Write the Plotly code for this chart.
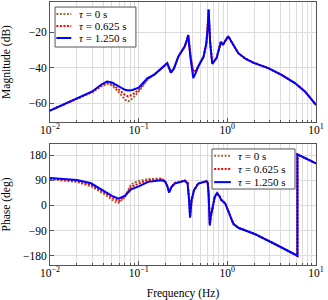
import plotly.graph_objects as go

# ---------------- data ----------------
freq_mag = [0.01, 0.015, 0.02, 0.03, 0.038, 0.044, 0.05, 0.06, 0.07, 0.076, 0.085, 0.1, 0.125, 0.15,
            0.18, 0.198, 0.21, 0.231, 0.25, 0.28, 0.33, 0.35, 0.362, 0.385, 0.413, 0.44, 0.47, 0.54,
            0.58, 0.6, 0.615, 0.64, 0.676, 0.755, 0.847, 0.89, 0.95, 1.0, 1.03, 1.15, 1.33, 1.6,
            1.96, 2.89, 4.09, 5.78, 7.5, 10.0]
mag_tau0 = [-64.2, -60.4, -57.6, -53.8, -50.5, -49.1, -50.0, -54.0, -58.0, -59.0, -57.5, -53.5, -47.0, -44.0,
            -40.5, -38.5, -37.5, -42.8, -40.5, -33.8, -28.2, -24.5, -21.7, -33.5, -43.0, -41.8, -39.4, -33.8,
            -26.3, -18.0, -7.3, -26.0, -37.5, -34.7, -25.4, -27.3, -24.5, -23.0, -22.6, -26.5, -31.9, -35.0,
            -37.2, -40.3, -44.1, -48.7, -53.4, -61.0]
mag_tau0625 = [-64.2, -60.3, -57.5, -53.6, -50.0, -48.5, -49.2, -52.5, -55.3, -56.2, -55.2, -52.6, -46.5, -44.0,
               -40.5, -38.5, -37.5, -42.8, -40.5, -33.8, -28.2, -24.5, -21.7, -33.5, -42.2, -41.5, -39.4, -33.8,
               -26.3, -18.0, -7.3, -26.0, -37.5, -34.7, -25.4, -27.3, -24.5, -23.0, -22.6, -26.5, -31.9, -35.0,
               -37.2, -40.3, -44.1, -48.7, -53.4, -61.0]
mag_tau125 = [-64.2, -60.2, -57.4, -53.4, -49.5, -47.8, -48.3, -50.8, -52.5, -52.9, -52.6, -51.3, -46.0, -44.0,
              -40.5, -38.5, -37.5, -42.8, -40.5, -33.8, -28.2, -24.5, -21.7, -35.0, -45.9, -43.0, -39.4, -33.8,
              -26.3, -18.0, -7.3, -26.0, -37.9, -34.7, -25.4, -27.3, -24.5, -23.0, -22.6, -26.5, -31.9, -35.0,
              -37.2, -40.3, -44.1, -48.7, -53.4, -61.0]

freq_ph = [0.01, 0.02, 0.029, 0.041, 0.05, 0.0575, 0.0595, 0.07, 0.082, 0.1, 0.128, 0.18, 0.198, 0.21,
           0.22, 0.235, 0.255, 0.33, 0.356, 0.37, 0.38, 0.395, 0.42, 0.47, 0.58, 0.6, 0.615, 0.634,
           0.65, 0.69, 0.72, 0.765, 0.82, 0.85, 0.88, 0.91, 0.95, 1.07, 1.17, 1.33, 2.03, 3.43,
           6.17, 6.17, 10.0]
ph_tau0 = [94, 84, 68, 40, 20, 8, 9, 30, 76, 87, 94, 96, 88, 70,
           50, 66, 80, 90, 82, 30, -35, 10, 52, 78, 88, 84, 45, -65,
           -42, 0, 30, 44, 32, 20, 14, 12, 6, -36, -66, -80, -102, -138,
           -180, 182, 150]
ph_tau0625 = [96, 87, 73, 45, 27, 16, 15, 32, 66, 78, 90, 94, 87, 70,
              48, 66, 79, 89, 81, 28, -40, 15, 53, 78, 87, 83, 42, -68,
              -41, 0, 30, 44, 32, 20, 14, 12, 6, -36, -66, -80, -102, -138,
              -180, 182, 150]
ph_tau125 = [98, 91, 79, 50, 34, 26, 24, 35, 57, 68, 84, 90, 86, 70,
             46, 66, 78, 87.5, 79, 20, -44, 20, 54, 78, 86, 82, 40, -72,
             -40, 0, 30, 44, 32, 20, 14, 12, 6, -36, -66, -80, -102, -138,
             -180, 182, 150]

series_names = ["<i>τ</i> = 0 s", "<i>τ</i> = 0.625 s", "<i>τ</i> = 1.250 s"]
series_colors = ["#9C6B3C", "#FF0000", "#0000FF"]
series_dash = ["2px,1.5px", "2px,1.5px", "solid"]

x_tickvals = [0.01, 0.1, 1, 10]
x_ticktext = ["10<sup>−2</sup>", "10<sup>−1</sup>", "10<sup>0</sup>", "10<sup>1</sup>"]
mag_ticks = [-60, -40, -20]
ph_ticks = [-180, -90, 0, 90, 180]

minor_vals = [m * 10 ** e for e in (-2, -1, 0) for m in range(2, 10)]

# ---------------- figure ----------------
FONT = "Liberation Serif, Times New Roman, DejaVu Serif, serif"
FS = 11.5
fig = go.Figure()

mags = [mag_tau0, mag_tau0625, mag_tau125]
phs = [ph_tau0, ph_tau0625, ph_tau125]
for i in range(3):
    fig.add_trace(go.Scatter(x=freq_mag, y=mags[i], mode="lines", xaxis="x", yaxis="y",
                             line=dict(color=series_colors[i], width=2, dash=series_dash[i]),
                             showlegend=False))
for i in range(3):
    fig.add_trace(go.Scatter(x=freq_ph, y=phs[i], mode="lines", xaxis="x2", yaxis="y2",
                             line=dict(color=series_colors[i], width=2, dash=series_dash[i]),
                             showlegend=False))

axis_common = dict(showline=True, linecolor="#555555", linewidth=1, mirror=True,
                   showgrid=True, gridcolor="#DDDDDD", gridwidth=1, zeroline=False,
                   ticks="inside", ticklen=4, tickcolor="#555555", automargin=False,
                   tickfont=dict(family=FONT, size=FS, color="black"))

xaxis_common = dict(axis_common, type="log", range=[-2, 1], tickvals=x_tickvals, ticktext=x_ticktext,
                    ticklabelstandoff=-3,
                    minor=dict(tickvals=minor_vals, showgrid=True, gridcolor="#DDDDDD", ticks="inside",
                               ticklen=2, tickcolor="#555555"))

fig.update_layout(
    width=328, height=300,
    margin=dict(l=50, r=12, t=2, b=35, autoexpand=False),
    paper_bgcolor="white", plot_bgcolor="white",
    showlegend=False,
    font=dict(family=FONT, size=FS, color="black"),
    xaxis=dict(xaxis_common, domain=[0, 1], anchor="y"),
    yaxis=dict(axis_common, domain=[0.5437, 1], range=[-70.6, -3.1], tickvals=mag_ticks,
               title=dict(text="Magnitude (dB)", font=dict(family=FONT, size=FS))),
    xaxis2=dict(xaxis_common, domain=[0, 1], anchor="y2",
                title=dict(text="Frequency (Hz)", font=dict(family=FONT, size=FS))),
    yaxis2=dict(axis_common, domain=[0, 0.46], range=[-213, 219.3], tickvals=ph_ticks,
                title=dict(text="Phase (deg)", font=dict(family=FONT, size=FS))),
)

# manual legends (box, line samples, labels), positioned in axis-domain coordinates
legends = [
    dict(xref="x domain", yref="y domain", box=(0.019, 0.323, 0.625, 0.958),
         sample=(0.024, 0.080), text_x=0.103, rows=[0.9, 0.8, 0.7]),
    dict(xref="x2 domain", yref="y2 domain", box=(0.609, 0.921, 0.628, 0.959),
         sample=(0.617, 0.680), text_x=0.698, rows=[0.903, 0.793, 0.685]),
]
for lg in legends:
    x0, x1, y0, y1 = lg["box"]
    fig.add_shape(type="rect", xref=lg["xref"], yref=lg["yref"], x0=x0, x1=x1, y0=y0, y1=y1,
                  line=dict(color="#555555", width=1), fillcolor="white", layer="above")
    for i, ry in enumerate(lg["rows"]):
        fig.add_shape(type="line", xref=lg["xref"], yref=lg["yref"], x0=lg["sample"][0], x1=lg["sample"][1],
                      y0=ry, y1=ry, line=dict(color=series_colors[i], width=2, dash=series_dash[i]),
                      layer="above")
        fig.add_annotation(xref=lg["xref"], yref=lg["yref"], x=lg["text_x"], y=ry, text=series_names[i],
                           showarrow=False, xanchor="left", yanchor="middle",
                           font=dict(family=FONT, size=11, color="black"))

fig.write_html("out.html", config={"displayModeBar": False},
               post_script="document.body.style.margin='0';document.body.style.padding='0';")
